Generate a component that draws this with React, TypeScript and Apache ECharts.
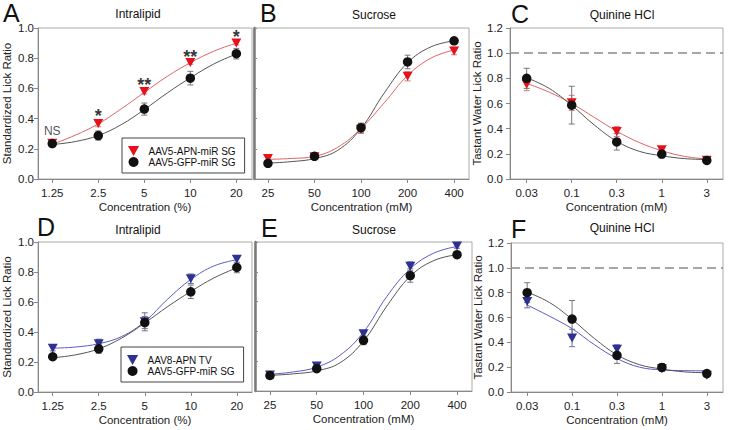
import React, { useEffect, useRef } from 'react';
import * as echarts from 'echarts';

// ---------- tick labels ----------
const intralipidLabels = ['1.25', '2.5', '5', '10', '20'];
const sucroseLabels = ['25', '50', '100', '200', '400'];
const quinineLabels = ['0.03', '0.1', '0.3', '1', '3'];
const concIndex = [0, 1, 2, 3, 4];
const fitIndex = [0, 0.5, 1, 1.5, 2, 2.5, 3, 3.5, 4];

// ---------- series names ----------
const nameGFP = 'AAV5-GFP-miR SG';
const nameAPNmiR = 'AAV5-APN-miR SG';
const nameAPNTV = 'AAV8-APN TV';

// ---------- Intralipid (means, SEM, fitted curve) ----------
const intralipidGFP = [0.235, 0.288, 0.463, 0.668, 0.83];
const intralipidGFPErr = [0.015, 0.03, 0.04, 0.045, 0.035];
const intralipidGFPFit = [0.228, 0.248, 0.288, 0.36, 0.46, 0.57, 0.67, 0.76, 0.828];

const intralipidAPNmiR = [0.237, 0.368, 0.58, 0.772, 0.9];
const intralipidAPNmiRErr = [0.012, 0.022, 0.017, 0.012, 0.012];
const intralipidAPNmiRFit = [0.23, 0.29, 0.365, 0.465, 0.573, 0.68, 0.77, 0.845, 0.9];

const intralipidAPNTV = [0.292, 0.322, 0.468, 0.755, 0.885];
const intralipidAPNTVErr = [0.018, 0.03, 0.06, 0.032, 0.025];
const intralipidAPNTVFit = [0.292, 0.3, 0.322, 0.37, 0.47, 0.62, 0.75, 0.84, 0.882];

const intralipidSig = ['NS', '*', '**', '**', '*'];

// ---------- Sucrose ----------
const sucroseGFP = [0.104, 0.15, 0.34, 0.775, 0.915];
const sucroseGFPErr = [0.012, 0.012, 0.03, 0.045, 0.02];
const sucroseGFPFit = [0.105, 0.115, 0.135, 0.19, 0.335, 0.57, 0.77, 0.875, 0.915];

const sucroseAPNmiR = [0.135, 0.148, 0.33, 0.68, 0.848];
const sucroseAPNmiRErr = [0.02, 0.015, 0.028, 0.03, 0.025];
const sucroseAPNmiRFit = [0.13, 0.136, 0.15, 0.21, 0.335, 0.505, 0.685, 0.8, 0.855];

const sucroseAPNTV = [0.108, 0.168, 0.385, 0.837, 0.973];
const sucroseAPNTVErr = [0.01, 0.015, 0.02, 0.03, 0.015];
const sucroseAPNTVFit = [0.112, 0.128, 0.16, 0.24, 0.395, 0.635, 0.82, 0.925, 0.97];

// ---------- Quinine HCl ----------
const quinineGFP = [0.8, 0.587, 0.295, 0.198, 0.148];
const quinineGFPErr = [0.08, 0.15, 0.065, 0.03, 0.012];
const quinineGFPFit = [0.805, 0.72, 0.585, 0.43, 0.3, 0.22, 0.185, 0.162, 0.155];

const quinineAPNmiR = [0.752, 0.605, 0.378, 0.232, 0.15];
const quinineAPNmiRErr = [0.05, 0.06, 0.04, 0.015, 0.01];
const quinineAPNmiRFit = [0.76, 0.69, 0.6, 0.49, 0.38, 0.29, 0.225, 0.18, 0.158];

const quinineAPNTV = [0.728, 0.435, 0.345, 0.188, 0.135];
const quinineAPNTVErr = [0.05, 0.07, 0.035, 0.02, 0.01];
const quinineAPNTVFit = [0.7, 0.61, 0.51, 0.38, 0.27, 0.2, 0.178, 0.172, 0.17];

const waterReference = 1.0;

// ---------- styling ----------
const NARROW = "'Liberation Sans Narrow', 'Liberation Sans', Arial, sans-serif";
const SANS = "'Liberation Sans', Arial, sans-serif";
const RED = '#e8101a';
const RED_LINE = '#e06464';
const RED_ERR = '#c98080';
const BLUE = '#2e3192';
const BLUE_LINE = '#5b5bc4';
const BLUE_ERR = '#6d6d9e';
const BLACK = '#111';
const BLACK_LINE = '#555';
const BLACK_ERR = '#777';
const DOWN_TRIANGLE = 'path://M0,0 L10,0 L5,9 Z';

function curve(fit: number[], color: string, ax: number) {
  return {
    type: 'line',
    name: 'fit',
    xAxisIndex: ax,
    yAxisIndex: ax,
    data: fit.map((v, i) => [fitIndex[i], v]),
    smooth: 0.4,
    symbol: 'none',
    silent: true,
    lineStyle: { color, width: 1 },
    z: 2,
  };
}

function errorBars(vals: number[], errs: number[], color: string, ax: number) {
  return {
    type: 'custom',
    name: 'err',
    xAxisIndex: ax,
    yAxisIndex: ax,
    silent: true,
    z: 3,
    data: vals.map((v, i) => [concIndex[i], v, errs[i]]),
    renderItem: (params: any, api: any) => {
      const x = api.value(0);
      const y = api.value(1);
      const e = api.value(2);
      const top = api.coord([x, y + e]);
      const bot = api.coord([x, y - e]);
      const w = 3;
      const st = { stroke: color, lineWidth: 1 };
      return {
        type: 'group',
        children: [
          { type: 'line', shape: { x1: top[0], y1: top[1], x2: bot[0], y2: bot[1] }, style: st },
          { type: 'line', shape: { x1: top[0] - w, y1: top[1], x2: top[0] + w, y2: top[1] }, style: st },
          { type: 'line', shape: { x1: bot[0] - w, y1: bot[1], x2: bot[0] + w, y2: bot[1] }, style: st },
        ],
      };
    },
  };
}

function points(name: string, vals: number[], kind: 'tri' | 'circle', color: string, ax: number) {
  return {
    type: 'scatter',
    name,
    xAxisIndex: ax,
    yAxisIndex: ax,
    data: vals.map((v, i) => [concIndex[i], v]),
    symbol: kind === 'tri' ? DOWN_TRIANGLE : 'circle',
    symbolSize: kind === 'tri' ? [10, 9] : 9.5,
    itemStyle: { color, opacity: 1 },
    z: kind === 'tri' ? 4 : 5,
  };
}

const grids = [
  { left: 38, top: 28, width: 214, height: 151 },
  { left: 254, top: 28, width: 215, height: 151 },
  { left: 510, top: 28, width: 213, height: 151 },
  { left: 38, top: 242, width: 214, height: 150 },
  { left: 255, top: 242, width: 217, height: 149 },
  { left: 511, top: 243, width: 212, height: 149 },
];

const xRanges = [
  [-0.31, 4.34],
  [-0.3, 4.32],
  [-0.37, 4.36],
  [-0.32, 4.33],
  [-0.32, 4.32],
  [-0.36, 4.36],
];
const xLabelSets = [intralipidLabels, sucroseLabels, quinineLabels, intralipidLabels, sucroseLabels, quinineLabels];
const xNames = ['Concentration (%)', 'Concentration (mM)', 'Concentration (mM)', 'Concentration (%)', 'Concentration (mM)', 'Concentration (mM)'];

export default function App() {
  const ref = useRef<HTMLDivElement>(null);
  useEffect(() => {
    if (!ref.current) return;
    const chart = echarts.init(ref.current, undefined, { renderer: 'svg' });

    const xAxis = grids.map((g, i) => ({
      type: 'value',
      gridIndex: i,
      min: xRanges[i][0],
      max: xRanges[i][1],
      name: xNames[i],
      nameLocation: 'middle',
      nameGap: 22,
      nameTextStyle: { fontFamily: NARROW, fontSize: 11.5, color: '#222' },
      splitLine: { show: false },
      axisLine: { onZero: false, lineStyle: { color: '#888', width: 1 } },
      axisTick: { customValues: concIndex, length: 4, lineStyle: { color: '#888' } },
      axisLabel: {
        customValues: concIndex,
        formatter: (v: number) => xLabelSets[i][Math.round(v)],
        fontFamily: NARROW,
        fontSize: 11.5,
        color: '#222',
        margin: 8,
      },
    }));

    const yAxis = grids.map((g, i) => {
      const quin = i === 2 || i === 5;
      const shared = i === 1 || i === 4;
      const base: any = {
        type: 'value',
        gridIndex: i,
        min: 0,
        max: quin ? 1.2 : 1,
        interval: 0.2,
        splitLine: { show: false },
        axisLine: { show: true, onZero: false, lineStyle: { color: '#888', width: 1 } },
        axisTick: { show: true, length: 4, lineStyle: { color: '#888' } },
        axisLabel: {
          formatter: (v: number) => v.toFixed(1),
          fontFamily: NARROW,
          fontSize: 11.5,
          color: '#222',
          margin: quin ? 7 : 4,
        },
      };
      if (shared) {
        base.axisLine = { show: true, onZero: false, lineStyle: { color: '#7a7a7a', width: 2.5 } };
        base.axisTick = { show: true, inside: true, length: 3, lineStyle: { color: '#888' } };
        base.axisLabel = { show: false };
      } else {
        base.name = quin ? 'Tastant Water Lick Ratio' : 'Standardized Lick Ratio';
        base.nameLocation = 'middle';
        base.nameGap = quin ? 24 : 25;
        base.nameTextStyle = { fontFamily: SANS, fontSize: 11.5, color: '#222' };
      }
      return base;
    });

    const sigSeries = {
      type: 'scatter',
      name: 'sig',
      xAxisIndex: 0,
      yAxisIndex: 0,
      symbolSize: 0,
      silent: true,
      z: 6,
      data: intralipidAPNmiR.map((v, i) => ({
        value: [concIndex[i], v + intralipidAPNmiRErr[i]],
        label: intralipidSig[i] === 'NS'
          ? { fontSize: 12, distance: 4, fontFamily: NARROW, color: '#222' }
          : { fontSize: 18, distance: -5, fontFamily: SANS, fontWeight: 'bold', color: '#000' },
      })),
      label: {
        show: true,
        position: 'top',
        formatter: (p: any) => intralipidSig[p.dataIndex],
        color: '#000',
      },
    };

    const refLine = {
      type: 'line',
      name: 'ref',
      data: [],
      silent: true,
      markLine: {
        silent: true,
        symbol: 'none',
        label: { show: false },
        lineStyle: { color: '#8a8a8a', type: [9, 5], width: 1.5 },
        data: [{ yAxis: waterReference }],
      },
    };

    const series: any[] = [
      // A
      curve(intralipidAPNmiRFit, RED_LINE, 0),
      curve(intralipidGFPFit, BLACK_LINE, 0),
      errorBars(intralipidAPNmiR, intralipidAPNmiRErr, RED_ERR, 0),
      errorBars(intralipidGFP, intralipidGFPErr, BLACK_ERR, 0),
      points(nameAPNmiR, intralipidAPNmiR, 'tri', RED, 0),
      points(nameGFP, intralipidGFP, 'circle', BLACK, 0),
      sigSeries,
      // B
      curve(sucroseAPNmiRFit, RED_LINE, 1),
      curve(sucroseGFPFit, BLACK_LINE, 1),
      errorBars(sucroseAPNmiR, sucroseAPNmiRErr, RED_ERR, 1),
      errorBars(sucroseGFP, sucroseGFPErr, BLACK_ERR, 1),
      points(nameAPNmiR, sucroseAPNmiR, 'tri', RED, 1),
      points(nameGFP, sucroseGFP, 'circle', BLACK, 1),
      // C
      { ...refLine, xAxisIndex: 2, yAxisIndex: 2 },
      curve(quinineAPNmiRFit, RED_LINE, 2),
      curve(quinineGFPFit, BLACK_LINE, 2),
      errorBars(quinineAPNmiR, quinineAPNmiRErr, RED_ERR, 2),
      errorBars(quinineGFP, quinineGFPErr, BLACK_ERR, 2),
      points(nameAPNmiR, quinineAPNmiR, 'tri', RED, 2),
      points(nameGFP, quinineGFP, 'circle', BLACK, 2),
      // D
      curve(intralipidAPNTVFit, BLUE_LINE, 3),
      curve(intralipidGFPFit, BLACK_LINE, 3),
      errorBars(intralipidAPNTV, intralipidAPNTVErr, BLUE_ERR, 3),
      errorBars(intralipidGFP, intralipidGFPErr, BLACK_ERR, 3),
      points(nameAPNTV, intralipidAPNTV, 'tri', BLUE, 3),
      points(nameGFP, intralipidGFP, 'circle', BLACK, 3),
      // E
      curve(sucroseAPNTVFit, BLUE_LINE, 4),
      curve(sucroseGFPFit, BLACK_LINE, 4),
      errorBars(sucroseAPNTV, sucroseAPNTVErr, BLUE_ERR, 4),
      errorBars(sucroseGFP, sucroseGFPErr, BLACK_ERR, 4),
      points(nameAPNTV, sucroseAPNTV, 'tri', BLUE, 4),
      points(nameGFP, sucroseGFP, 'circle', BLACK, 4),
      // F
      { ...refLine, xAxisIndex: 5, yAxisIndex: 5 },
      curve(quinineAPNTVFit, BLUE_LINE, 5),
      curve(quinineGFPFit, BLACK_LINE, 5),
      errorBars(quinineAPNTV, quinineAPNTVErr, BLUE_ERR, 5),
      errorBars(quinineGFP, quinineGFPErr, BLACK_ERR, 5),
      points(nameAPNTV, quinineAPNTV, 'tri', BLUE, 5),
      points(nameGFP, quinineGFP, 'circle', BLACK, 5),
    ];

    const legendBase = {
      orient: 'vertical',
      itemWidth: 20,
      itemHeight: 10,
      itemGap: 1,
      padding: [8, 9, 6, 6],
      borderColor: '#444',
      borderWidth: 1,
      backgroundColor: '#fff',
      selectedMode: false,
      textStyle: { fontFamily: NARROW, fontSize: 10, color: '#111' },
    };
    const triItem = (name: string) => ({ name, icon: DOWN_TRIANGLE });

    const letter = (t: string, x: number, y: number) => ({
      type: 'text',
      x,
      y,
      style: { text: t, font: `25px ${NARROW}`, fill: '#111', textAlign: 'left', textVerticalAlign: 'top' },
    });
    const title = (t: string, x: number, y: number) => ({
      type: 'text',
      x,
      y,
      style: { text: t, font: `12px ${NARROW}`, fill: '#111', textAlign: 'center', textVerticalAlign: 'middle' },
    });

    chart.setOption({
      animation: false,
      backgroundColor: '#fff',
      grid: grids.map((g) => ({ ...g, show: true, borderColor: '#aaa', borderWidth: 1, backgroundColor: 'transparent' })),
      xAxis,
      yAxis,
      legend: [
        { ...legendBase, left: 122, top: 138, data: [triItem(nameAPNmiR), nameGFP] },
        { ...legendBase, left: 121, top: 347, data: [triItem(nameAPNTV), nameGFP] },
      ],
      graphic: [
        letter('A', 3, 0),
        letter('B', 260, 0),
        letter('C', 511, 1),
        letter('D', 37, 214),
        letter('E', 261, 215),
        letter('F', 511, 216),
        title('Intralipid', 138, 14),
        title('Sucrose', 374, 15),
        title('Quinine HCl', 622, 15),
        title('Intralipid', 138, 230),
        title('Sucrose', 374, 230),
        title('Quinine HCl', 622, 228),
      ],
      series,
    });
    return () => chart.dispose();
  }, []);
  return <div ref={ref} style={{ position: 'fixed', left: 0, top: 0, width: 729, height: 430 }} />;
}
